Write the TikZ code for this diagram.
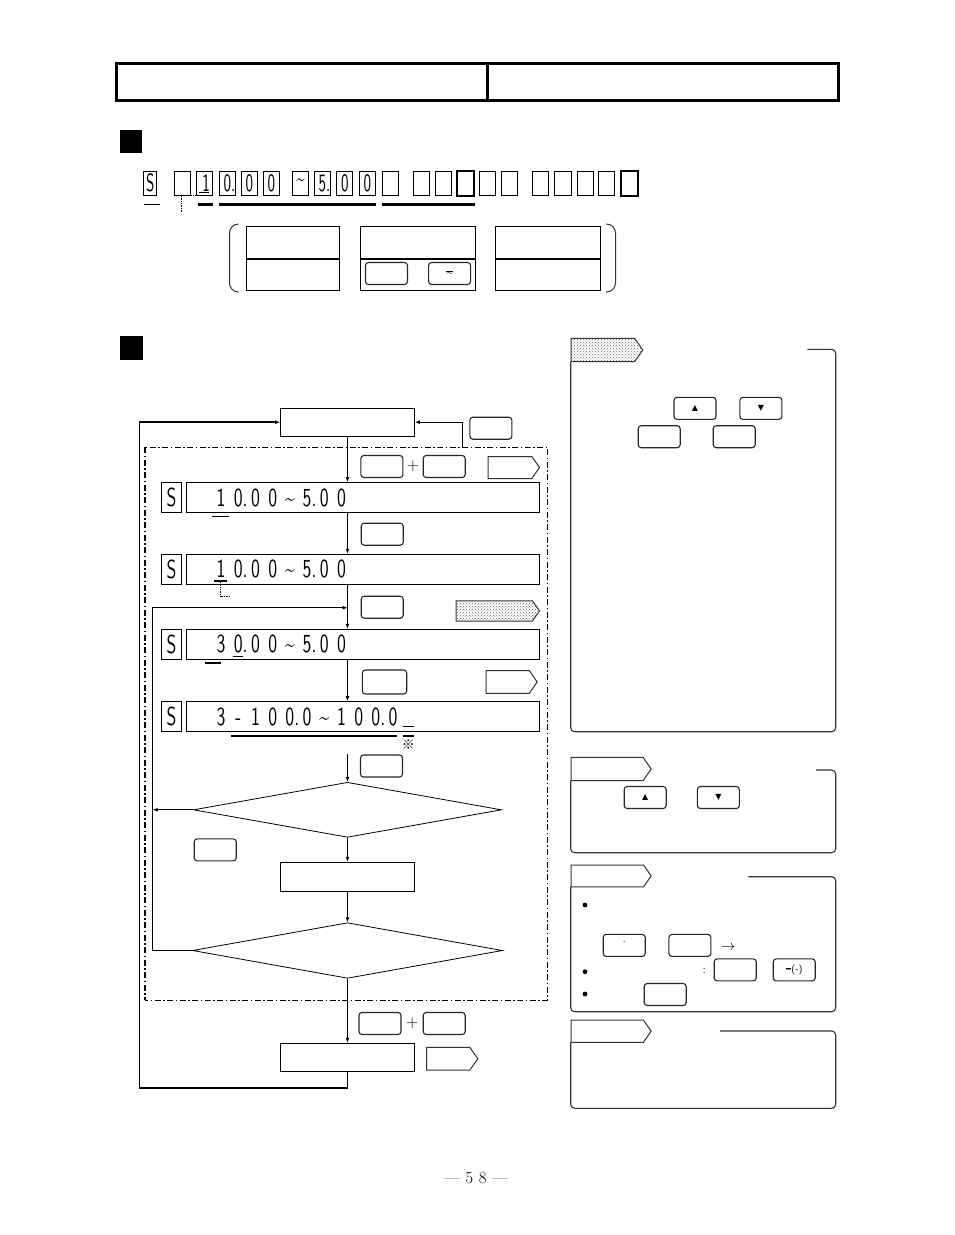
\documentclass[tikz,border=0pt]{standalone}
\usepackage{fontspec}
\usepackage{graphicx}
\usetikzlibrary{arrows.meta,positioning,patterns,shapes.geometric,shapes.symbols}
\newfontfamily\segfont{lmsans10-regular.otf}
\newfontfamily\symfont{DejaVu Sans}
\newfontfamily\cjk{Noto Sans CJK JP}
\newcommand\cl[1]{\makebox[17.2pt]{\scalebox{0.68}[1]{#1}}}
\newcommand\tld{\textasciitilde}

\begin{document}
\begin{tikzpicture}[x=1pt,y=-1pt,line width=1pt,
    box/.style={draw,inner sep=0pt},
    key/.style={draw=black!85,rounded corners=3pt,line width=1.1pt,minimum width=42pt,minimum height=22pt,inner sep=0pt},
    disp/.style={draw,line width=1.1pt,minimum height=30pt,inner sep=0pt},
    seg/.style={inner sep=0pt,font=\segfont\fontsize{26}{26}\selectfont},
    cell/.style={draw,minimum width=16.3pt,minimum height=24.2pt,inner sep=0pt,font=\segfont\fontsize{25}{25}\selectfont},
    tagw/.style={draw=black!80,signal,signal to=east,signal pointer angle=110,minimum height=22pt,inner sep=0pt,anchor=west},
    tags/.style={tagw,pattern=crosshatch dots,pattern color=black!60},
    dec/.style={diamond,draw,line width=0.8pt,inner sep=0pt},
    flow/.style={-{Latex[length=5pt,width=4pt]},line width=1.2pt},
    frm/.style={draw=black!80,rounded corners=4pt,line width=1.1pt},
    dashdot/.style={dash pattern=on 6pt off 2.5pt on 1.5pt off 2.5pt}]
  \useasboundingbox (0,0) rectangle (954,1235);
  \fill[white] (0,0) rectangle (954,1235);

  % header
  \draw[line width=3pt] (116,63) rectangle (838,100) (487,63) -- (487,100);
  \fill (120,130) rectangle (142,153);
  \fill (120,336) rectangle (143,360);

  % format row
  \node[cell,minimum width=12.8pt] (c0) at (150.3,183.1) {\scalebox{0.6}[1]{S}};
  \foreach \x/\t [count=\i] in {174.4/,196.5/\hspace{5pt}1,219.3/0\rlap{.},241.1/0,263.3/0,292.4/\tld,314.2/5\rlap{.},336.6/0,359.1/0,382.3/,413.5/,435.3/,457.1/,479.6/,501/,532.5/,554.7/,577.1/,598.6/,621/}
    \node[cell] (c\i) at (\x+8.15,183.1) {\scalebox{0.6}[1]{\t}};
  \draw[line width=1.8pt] (c13.north west) rectangle (c13.south east) (c20.north west) rectangle (c20.south east);
  \draw[line width=1.4pt] ([xshift=3pt,yshift=3pt]c2.south west) -- ([xshift=-4pt,yshift=3pt]c2.south east);
  \draw[line width=0.7pt] (144,204.5) -- (160,204.5);
  \draw[line width=2.2pt] (197.5,204.5) -- (213,204.5) (219,204.5) -- (376.4,204.5) (381.6,204.5) -- (475,204.5);
  \draw[densely dotted,line width=0.7pt] (181,212) -- (181,195.2) -- (201,195.2);

  % bracket boxes
  \node[box,minimum width=93pt,minimum height=32pt] (a1) at (292.5,242) {};
  \node[box,minimum width=93pt,minimum height=31.5pt,below=0pt of a1] (a2) {};
  \node[box,minimum width=114.8pt,minimum height=32pt] (b1) at (417.6,242) {};
  \node[box,minimum width=114.8pt,minimum height=31.5pt,below=0pt of b1] (b2) {};
  \node[box,minimum width=104.9pt,minimum height=32pt] (e1) at (548.3,242) {};
  \node[box,minimum width=104.9pt,minimum height=31.5pt,below=0pt of e1] (e2) {};
  \node[key] (kb1) at (386.5,273.5) {};
  \node[key,font=\segfont\fontsize{12}{12}\selectfont] (kb2) at (449.6,273.5) {$\overline{\mbox{\tld}}$};
  \draw[black!80,rounded corners=9pt] (238,224) -- (229.5,224) -- (229.5,292) -- (238,292);
  \draw[black!80,rounded corners=9pt] (606,224) -- (615.5,224) -- (615.5,292) -- (606,292);

  % flow
  \draw[dashdot,line width=0.9pt] (145,447.3) rectangle (547.7,1000);
  \draw[dashdot,line width=2pt] (145,447.3) -- (145,1000);
  \node[box,line width=1.1pt,minimum width=133.6pt,minimum height=27.7pt] (start) at (347.5,422.2) {};
  \node[key] (kesc) at (490.9,428.2) {};
  \node[key] (k1a) at (381.9,466.5) {};
  \node[font=\fontsize{17}{17}\selectfont] (pl1) at (413,466.5) {+};
  \node[key] (k1b) at (444.2,466.5) {};
  \node[tagw,minimum width=51.3pt] (tg1) at (487.7,467.5) {};

  \node[box,line width=1.1pt,minimum width=19.6pt,minimum height=30pt,font=\segfont\fontsize{26}{26}\selectfont] (s1) at (171.5,497.7) {\scalebox{0.68}[1]{S}};
  \node[disp,minimum width=352.6pt] (d1) at (363,497.7) {};
  \node[seg,anchor=west] (v1) at (212,497.7) {\cl1\cl{0\rlap.}\cl0\cl0\cl\tld\cl{5\rlap.}\cl0\cl0};
  \draw[line width=1.2pt] (211.7,516.7) -- (229.3,516.7);
  \node[key] (k2) at (382.2,534.2) {};

  \node[box,line width=1.1pt,minimum width=19.6pt,minimum height=30pt,font=\segfont\fontsize{26}{26}\selectfont] (s2) at (171.5,569.3) {\scalebox{0.68}[1]{S}};
  \node[disp,minimum width=352.6pt] (d2) at (363,569.3) {};
  \node[seg,anchor=west] (v2) at (212,569.3) {\cl1\cl{0\rlap.}\cl0\cl0\cl\tld\cl{5\rlap.}\cl0\cl0};
  \draw[line width=1.2pt] (214.3,581) -- (226.7,581);
  \draw[densely dotted,line width=0.7pt] (220,582) -- (220,596.7) -- (229.3,596.7);
  \node[key] (k3) at (382.2,607.2) {};
  \node[tags,minimum width=83.3pt,minimum height=20.3pt] (tg2) at (455.7,610.9) {};

  \node[box,line width=1.1pt,minimum width=19.6pt,minimum height=30pt,font=\segfont\fontsize{26}{26}\selectfont] (s3) at (171.5,644.3) {\scalebox{0.68}[1]{S}};
  \node[disp,minimum width=352.6pt] (d3) at (363,644.3) {};
  \node[seg,anchor=west] (v3) at (212,644.3) {\cl3\cl{0\rlap.}\cl0\cl0\cl\tld\cl{5\rlap.}\cl0\cl0};
  \draw[line width=1pt] (232.7,656.7) -- (243.3,656.7);
  \draw[line width=2pt] (205,662.7) -- (221,662.7);
  \node[key,minimum width=44.4pt,minimum height=24pt] (k4) at (384.5,682) {};
  \node[tagw,minimum width=51pt,minimum height=22.6pt] (tg3) at (485.7,682) {};

  \node[box,line width=1.1pt,minimum width=19.6pt,minimum height=30pt,font=\segfont\fontsize{26}{26}\selectfont] (s4) at (171.5,716.7) {\scalebox{0.68}[1]{S}};
  \node[disp,minimum width=352.6pt] (d4) at (363,716.7) {};
  \node[seg,anchor=west] (v4) at (212,716.7) {\cl3\cl-\cl1\cl0\cl{0\rlap.}\cl0\cl\tld\cl1\cl0\cl{0\rlap.}\cl0};
  \draw[line width=1pt] (402.7,726.7) -- (414,726.7);
  \draw[line width=2.2pt] (231,736) -- (397.3,736);
  \draw[line width=1.2pt] (402.7,736) -- (414,736);
  \node[font=\cjk\fontsize{13}{13}\selectfont] (mark) at (408.3,745) {※};
  \node[key] (k5) at (381.5,766) {};

  \node[dec,minimum width=308pt,minimum height=55pt] (q1) at (347.5,809.8) {};
  \node[key] (k6) at (215.2,849.9) {};
  \node[box,minimum width=134pt,minimum height=28.7pt] (proc) at (347.5,876.7) {};
  \node[dec,minimum width=310pt,minimum height=55.6pt] (q2) at (347.5,950.5) {};
  \node[key] (k7a) at (380,1023.5) {};
  \node[font=\fontsize{17}{17}\selectfont] (pl2) at (412.3,1023.5) {+};
  \node[key] (k7b) at (444.2,1023.5) {};
  \node[box,line width=1.1pt,minimum width=134pt,minimum height=28.4pt] (fin) at (347.5,1057.5) {};
  \node[tagw,minimum width=51.3pt,minimum height=22.7pt] (tg4) at (426,1058.7) {};

  \coordinate (ret) at (152.7,607.7);
  \coordinate (lp) at (139.5,1087.7);
  \coordinate (rt) at (462.3,448);
  \draw[flow] (start.south) -- (start.south |- d1.north);
  \draw[flow] (start.south |- d1.south) -- (start.south |- d2.north);
  \draw[flow] (start.south |- d2.south) -- (start.south |- d3.north);
  \draw[flow] (start.south |- d3.south) -- (start.south |- d4.north);
  \draw[flow] ([yshift=-22pt]start.south |- d4.south) -- (q1.north);
  \draw[flow] (q1.south) -- (proc.north);
  \draw[flow] (proc.south) -- (q2.north);
  \draw[flow] (q2.south) -- (fin.north);
  \draw[flow,line width=0.9pt] (q1.west) -- (q1.west -| ret);
  \draw[flow,line width=0.9pt] (q2.west) -| (ret) -- (start.south |- ret);
  \draw[flow,line width=1.6pt] (fin.south) |- (lp) |- (start.west);
  \draw[flow,line width=1pt] (rt) |- (start.east);

  % side notes
  \node[tags,minimum width=71.6pt,minimum height=23.4pt] (tp1) at (570.7,350) {};
  \draw[frm] (807.3,349.3) -- (835.7,349.3) -- (835.7,731.7) -- (570.7,731.7) -- (570.7,361.7);
  \node[key,font=\symfont\fontsize{8}{8}\selectfont] (ku1) at (695,408.3) {▲};
  \node[key,font=\symfont\fontsize{8}{8}\selectfont] (kd1) at (760.9,408.3) {▼};
  \node[key] (kp1) at (659.2,436.7) {};
  \node[key] (kp2) at (734.2,436.7) {};

  \node[tagw,minimum width=80pt,minimum height=23.4pt] (tp2) at (570.7,769) {};
  \draw[frm] (816,770) -- (835.7,770) -- (835.7,852.7) -- (570.7,852.7) -- (570.7,780.7);
  \node[key,font=\symfont\fontsize{8}{8}\selectfont] (ku2) at (645.2,797.5) {▲};
  \node[key,font=\symfont\fontsize{8}{8}\selectfont] (kd2) at (718.4,797.5) {▼};

  \node[tagw,minimum width=80pt,minimum height=21.7pt] (tp3) at (570.7,875.9) {};
  \draw[frm] (748.3,876.7) -- (835.7,876.7) -- (835.7,1011.7) -- (570.7,1011.7) -- (570.7,886.7);
  \fill (585,905) circle (2.4) (585,971.7) circle (2.4) (585,994) circle (2.4);
  \node[key] (kdot) at (624.2,945.4) {\smash{\raisebox{3pt}{.}}};
  \node[key] (kq1) at (689.9,945.4) {};
  \node[font=\fontsize{14}{14}\selectfont] (arr) at (728.3,948) {$\rightarrow$};
  \node[font=\fontsize{12}{12}\selectfont] (colon) at (704.3,971) {:};
  \node[key] (kq2) at (735.2,969.9) {};
  \node[key,font=\segfont\fontsize{10}{10}\selectfont] (kq3) at (794.2,969.9) {$\overline{\mbox{\tld}}$(-)};
  \node[key] (kq4) at (665.2,994.5) {};

  \node[tagw,minimum width=80pt,minimum height=22.3pt] (tp4) at (570.7,1031.2) {};
  \draw[frm] (720,1031) -- (835.7,1031) -- (835.7,1108.3) -- (570.7,1108.3) -- (570.7,1042.3);

  \node[font=\fontsize{17}{17}\selectfont] (pg) at (476,1178) {—\,\,5\,\,8\,\,—};
\end{tikzpicture}
\end{document}
